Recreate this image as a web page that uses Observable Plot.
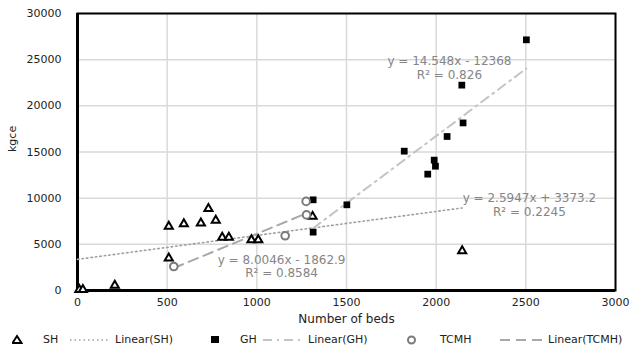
<!DOCTYPE html>
<html><head><meta charset="utf-8">
<script src="https://cdn.jsdelivr.net/npm/d3@7"></script>
<script src="https://cdn.jsdelivr.net/npm/@observablehq/plot@0.6"></script>
<style>
body{margin:0;background:#fff;font-family:"DejaVu Sans",sans-serif;}
#legend{position:relative;width:630px;height:19px;font-size:11px;color:#222;}
#legend span{position:absolute;top:3px;white-space:nowrap;}
#legend svg{position:absolute;top:0;}
</style>
</head><body>
<div id="chart"></div>
<div id="legend"></div>
<script>
// Data
const shBeds = [10, 30, 208, 509, 509, 593, 688, 730, 771, 807, 844, 970, 1008, 1311, 2145];
const shKgce = [100, 100, 540, 6930, 3500, 7220, 7290, 8850, 7580, 5740, 5740, 5490, 5490, 8010, 4300];
const ghBeds = [1314, 1314, 1502, 1822, 1953, 1989, 1996, 2061, 2143, 2150, 2503];
const ghKgce = [9820, 6320, 9280, 15090, 12600, 14120, 13460, 16680, 22240, 18150, 27150];
const tcmhBeds = [537, 1158, 1277, 1275];
const tcmhKgce = [2600, 5930, 8190, 9650];
const xTicks = [0, 500, 1000, 1500, 2000, 2500, 3000];
const yTicks = [0, 5000, 10000, 15000, 20000, 25000, 30000];
const fits = {
  SH:   {slope: 2.5947, intercept: 3373.2, eq: "y = 2.5947x + 3373.2", r2: "R² = 0.2245"},
  GH:   {slope: 14.548, intercept: -12368, eq: "y = 14.548x - 12368", r2: "R² = 0.826"},
  TCMH: {slope: 8.0046, intercept: -1862.9, eq: "y = 8.0046x - 1862.9", r2: "R² = 0.8584"}
};

const sh = shBeds.map((b, i) => ({beds: b, kgce: shKgce[i]}));
const gh = ghBeds.map((b, i) => ({beds: b, kgce: ghKgce[i]}));
const tcmh = tcmhBeds.map((b, i) => ({beds: b, kgce: tcmhKgce[i]}));

function trend(data, fit, x0) {
  const xs = [x0 ?? d3.min(data, d => d.beds), d3.max(data, d => d.beds)];
  return xs.map(x => ({beds: x, kgce: fit.slope * x + fit.intercept}));
}

// label anchors (layout only)
const labelPos = {
  GH: [2074, 24800, 23290],
  SH: [2520, 9960, 8450],
  TCMH: [1138, 3250, 1840]
};
const labels = Object.entries(labelPos).flatMap(([k, [x, y1, y2]]) => [
  {text: fits[k].eq, x, y: y1}, {text: fits[k].r2, x, y: y2}
]);

const fmt = d => String(d);

const chart = Plot.plot({
  width: 630, height: 330,
  marginLeft: 77, marginRight: 15, marginTop: 13, marginBottom: 40,
  style: {fontFamily: "DejaVu Sans, sans-serif", fontSize: "11px", color: "#222", background: "#fff"},
  x: {domain: [0, 3000]},
  y: {domain: [0, 30000]},
  marks: [
    Plot.gridX(xTicks, {stroke: "#d9d9d9", strokeOpacity: 1, strokeWidth: 1.5}),
    Plot.gridY(yTicks, {stroke: "#d9d9d9", strokeOpacity: 1, strokeWidth: 1.5}),
    Plot.axisX(xTicks, {tickSize: 0, tickPadding: 8, label: null, fontSize: 11, tickFormat: fmt}),
    Plot.axisY(yTicks, {tickSize: 0, tickPadding: 16, label: null, fontSize: 11, tickFormat: fmt}),
    Plot.text(["Number of beds"], {frameAnchor: "bottom", dy: 32, fontSize: 12, fill: "#222"}),
    Plot.text(["kgce"], {frameAnchor: "left", dx: -65, rotate: -90, fontSize: 11, fill: "#222"}),
    Plot.frame({stroke: "black", strokeWidth: 2}),
    Plot.ruleX([0], {stroke: "black", strokeWidth: 3}),
    Plot.ruleY([0], {stroke: "black", strokeWidth: 3}),
    Plot.line(trend(sh, fits.SH, 0), {x: "beds", y: "kgce", stroke: "#a0a0a0", strokeWidth: 1.6, strokeDasharray: "1.5,3"}),
    Plot.line(trend(gh, fits.GH), {x: "beds", y: "kgce", stroke: "#c4c4c4", strokeWidth: 2, strokeDasharray: "9,5,2,5"}),
    Plot.line(trend(tcmh, fits.TCMH), {x: "beds", y: "kgce", stroke: "#a8a8a8", strokeWidth: 2, strokeDasharray: "10,6"}),
    Plot.dot(sh, {x: "beds", y: "kgce", symbol: "triangle", r: 3, stroke: "black", strokeWidth: 2, fill: "white"}),
    Plot.dot(gh, {x: "beds", y: "kgce", symbol: "square", r: 3.8, fill: "black", stroke: "none"}),
    Plot.dot(tcmh, {x: "beds", y: "kgce", symbol: "circle", r: 3.8, stroke: "#7a7a7a", strokeWidth: 2, fill: "white"}),
    Plot.text(labels, {x: "x", y: "y", text: "text", fontSize: 12, fill: "#858585"})
  ]
});
document.getElementById("chart").append(chart);

// legend
const legend = document.getElementById("legend");
const items = [
  {svg: '<polygon points="5,2 9.5,9 0.5,9" fill="white" stroke="black" stroke-width="2"/>', x: 12, w: 11},
  {text: "SH", x: 43},
  {svg: '<line x1="0" y1="6" x2="38" y2="6" stroke="#a0a0a0" stroke-width="1.6" stroke-dasharray="1.5,3"/>', x: 70, w: 38},
  {text: "Linear(SH)", x: 115},
  {svg: '<rect x="1" y="2" width="8" height="7" fill="black"/>', x: 210, w: 11},
  {text: "GH", x: 240},
  {svg: '<line x1="0" y1="6" x2="38" y2="6" stroke="#c4c4c4" stroke-width="2" stroke-dasharray="9,5,2,5"/>', x: 263, w: 38},
  {text: "Linear(GH)", x: 308},
  {svg: '<circle cx="5.5" cy="6" r="3.5" fill="white" stroke="#7a7a7a" stroke-width="2"/>', x: 406, w: 11},
  {text: "TCMH", x: 440},
  {svg: '<line x1="0" y1="6" x2="46" y2="6" stroke="#a8a8a8" stroke-width="2" stroke-dasharray="10,6"/>', x: 500, w: 46},
  {text: "Linear(TCMH)", x: 548}
];
for (const it of items) {
  if (it.text) {
    const s = document.createElement("span");
    s.textContent = it.text; s.style.left = it.x + "px";
    legend.append(s);
  } else {
    const ns = "http://www.w3.org/2000/svg";
    const s = document.createElement("svg");
    const el = document.createElementNS(ns, "svg");
    el.setAttribute("width", it.w); el.setAttribute("height", 12);
    el.style.left = it.x + "px"; el.style.top = "4px";
    el.innerHTML = it.svg;
    legend.append(el);
  }
}
</script>
</body></html>
